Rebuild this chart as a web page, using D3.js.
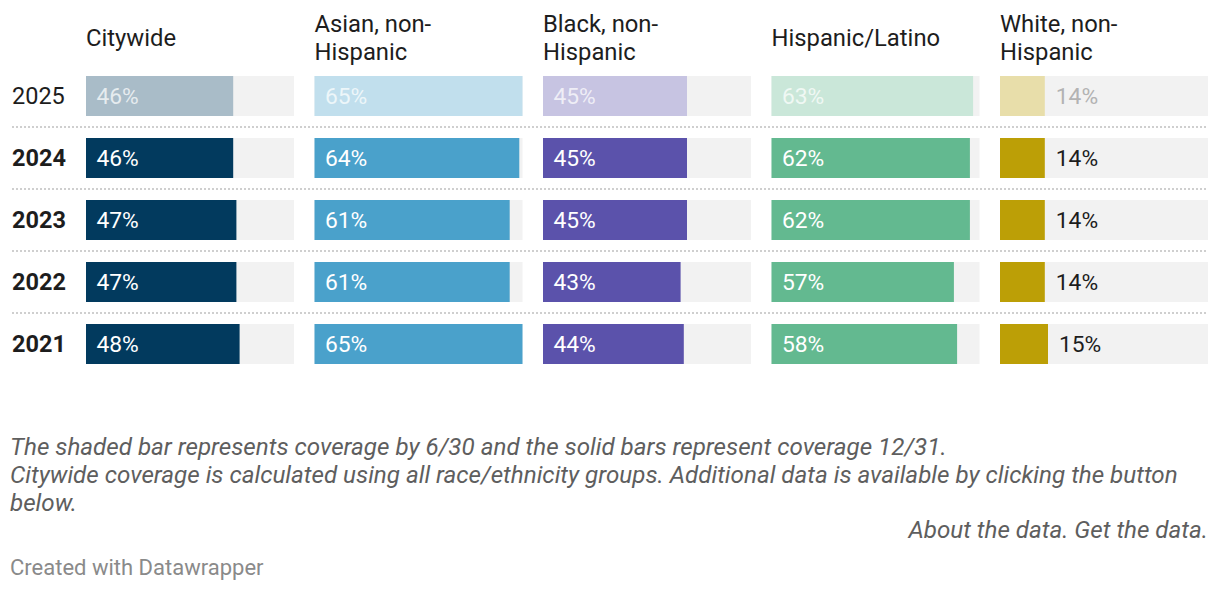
<!DOCTYPE html>
<html>
<head>
<meta charset="utf-8">
<script src="https://cdn.jsdelivr.net/npm/d3@7"></script>
<style>
  html, body { margin: 0; padding: 0; background: #fff; }
  svg { display: block; font-family: Roboto, "Noto Sans", sans-serif; }
</style>
</head>
<body>
<svg id="chart" width="1220" height="590"></svg>
<script>
const years = ["2025", "2024", "2023", "2022", "2021"];
const groups = ["Citywide", "Asian, non-Hispanic", "Black, non-Hispanic", "Hispanic/Latino", "White, non-Hispanic"];
const citywide = [46, 46, 47, 47, 48];
const asian    = [65, 64, 61, 61, 65];
const black    = [45, 45, 45, 43, 44];
const hispanic = [63, 62, 62, 57, 58];
const white    = [14, 14, 14, 14, 15];
const seriesValues = [citywide, asian, black, hispanic, white];
const colors = ["#023a5e", "#4aa1cb", "#5b52ab", "#63b990", "#bc9f06"];
const notes = [
  "The shaded bar represents coverage by 6/30 and the solid bars represent coverage 12/31.",
  "Citywide coverage is calculated using all race/ethnicity groups. Additional data is available by clicking the button",
  "below."
];
const sourceText = "About the data. Get the data.";
const creditText = "Created with Datawrapper";

const svg = d3.select("#chart");

const col = d3.scaleBand().domain(groups).range([86, 1208]).paddingInner(20.5 / 228.5).paddingOuter(0);
const row = d3.scaleBand().domain(years).range([65, 375]).paddingInner(22 / 62).paddingOuter(11 / 62);
const x = d3.scaleLinear().domain([0, 65]).range([0, col.bandwidth()]);

// separators
years.slice(1).forEach(y => {
  const yy = row(y) - (row.step() - row.bandwidth()) / 2;
  svg.append("line")
    .attr("x1", 12).attr("x2", 1208)
    .attr("y1", yy).attr("y2", yy)
    .attr("stroke", "#cfcfcf").attr("stroke-width", 2)
    .attr("stroke-dasharray", "2,2");
});

// headers with wrapping
function wrapTokens(text) {
  const tokens = [];
  text.split(" ").forEach((w, i, arr) => {
    const parts = w.split(/(?<=-)/);
    parts.forEach((p, j) => tokens.push(p + (j === parts.length - 1 && i < arr.length - 1 ? " " : "")));
  });
  return tokens;
}
const headerWrapWidth = col.bandwidth() - 14;
groups.forEach(g => {
  const t = svg.append("text")
    .attr("x", col(g))
    .attr("font-size", 23.8)
    .attr("fill", "#1d1d1d");
  const tokens = wrapTokens(g);
  const lines = [];
  let cur = "";
  const measure = t.append("tspan");
  tokens.forEach(tok => {
    const test = cur + tok;
    measure.text(test.trim());
    if (measure.node().getComputedTextLength() > headerWrapWidth && cur !== "") {
      lines.push(cur.trim());
      cur = tok;
    } else {
      cur = test;
    }
  });
  lines.push(cur.trim());
  measure.remove();
  const lh = 28;
  const centerY = 38;
  const y0 = centerY - (lines.length - 1) * lh / 2;
  lines.forEach((l, i) => {
    t.append("tspan").attr("x", col(g)).attr("y", y0 + i * lh)
      .attr("dominant-baseline", "central").text(l);
  });
});

// year labels
years.forEach((y, i) => {
  svg.append("text")
    .attr("x", 12)
    .attr("y", row(y) + row.bandwidth() / 2)
    .attr("dominant-baseline", "central")
    .attr("font-size", 23.5)
    .attr("font-weight", i === 0 ? 400 : 700)
    .attr("fill", "#1d1d1d")
    .text(y);
});

// bars
groups.forEach((g, gi) => {
  const vals = seriesValues[gi];
  const base = colors[gi];
  const light = d3.interpolateRgb(base, "#ffffff")(0.66);
  const cg = svg.append("g");
  years.forEach((y, yi) => {
    const v = vals[yi];
    const top = row(y);
    cg.append("rect")
      .attr("x", col(g)).attr("y", top)
      .attr("width", col.bandwidth()).attr("height", row.bandwidth())
      .attr("fill", "#f2f2f2");
    const w = x(v);
    cg.append("rect")
      .attr("x", col(g)).attr("y", top)
      .attr("width", w).attr("height", row.bandwidth())
      .attr("fill", yi === 0 ? light : base);
    const inside = w > 70;
    let fill;
    if (inside) fill = yi === 0 ? "rgba(255,255,255,0.72)" : "#ffffff";
    else fill = yi === 0 ? "#b3b3b3" : "#1d1d1d";
    cg.append("text")
      .attr("x", inside ? col(g) + 10.5 : col(g) + w + 11)
      .attr("y", top + row.bandwidth() / 2)
      .attr("dominant-baseline", "central")
      .attr("font-size", 22.8)
      .attr("fill", fill)
      .text(v + "%");
  });
});

// notes
notes.forEach((n, i) => {
  svg.append("text")
    .attr("x", 10).attr("y", 447 + i * 28)
    .attr("dominant-baseline", "central")
    .attr("font-size", 24.2)
    .attr("font-style", "italic")
    .attr("fill", "#5e5e5e")
    .text(n);
});
svg.append("text")
  .attr("x", 1208).attr("y", 530)
  .attr("dominant-baseline", "central")
  .attr("text-anchor", "end")
  .attr("font-size", 24.2)
  .attr("font-style", "italic")
  .attr("fill", "#5e5e5e")
  .text(sourceText);
svg.append("text")
  .attr("x", 10).attr("y", 567)
  .attr("dominant-baseline", "central")
  .attr("font-size", 22)
  .attr("fill", "#8a8a8a")
  .text(creditText);
</script>
</body>
</html>
